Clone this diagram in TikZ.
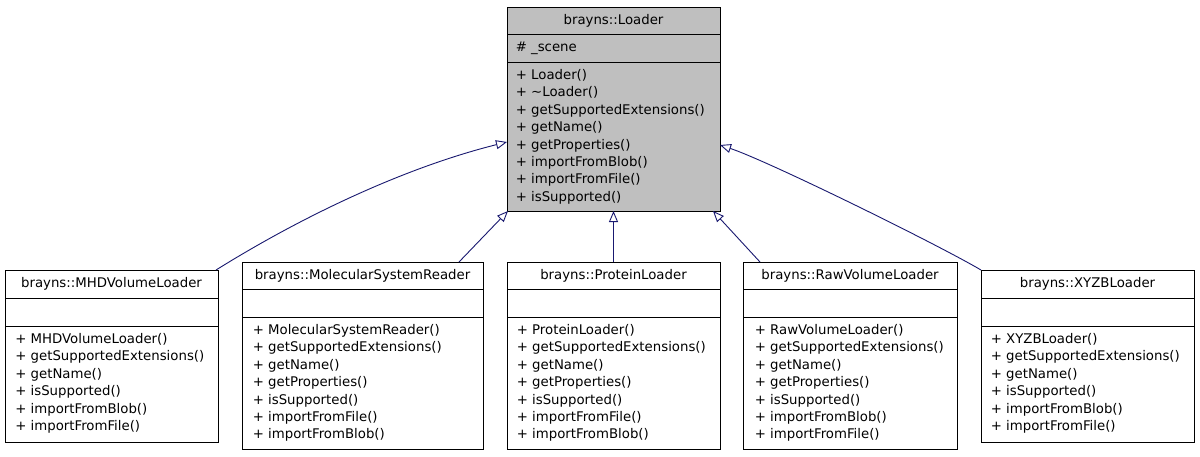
\documentclass[tikz,border=0pt]{standalone}
\usepackage{fontspec}
\newfontfamily\umlfont{DejaVu Sans}
\usetikzlibrary{arrows.meta}

\definecolor{edgeblue}{HTML}{191970}
\definecolor{basefill}{HTML}{BFBFBF}

\tikzset{
  x=1pt, y=1pt,
  classbox/.style={draw=black, line width=1pt, inner sep=0pt, outer sep=0pt, anchor=north west},
  divider/.style={draw=black, line width=1pt},
  member/.style={font=\umlfont\fontsize{13.3}{16}\selectfont, inner sep=0pt, anchor=base west},
  classname/.style={font=\umlfont\fontsize{13.3}{16}\selectfont, inner sep=0pt, anchor=base},
  inherit/.style={draw=edgeblue, line width=0.9pt, -{Triangle[open, length=11pt, width=9pt]}},
}

% box with three compartments: name, left, right, top, name rule, attribute rule, bottom, fill
\newcommand{\umlclass}[8]{%
  \node[classbox, fill=#8, minimum width={#3-#2}, minimum height={#7-#4}] (#1) at (#2,-#4) {};
  \draw[divider] (#2,-#5) -- (#3,-#5);
  \draw[divider] (#2,-#6) -- (#3,-#6);
}
% one line per member: prefix, x, first baseline, list
\newcommand{\umlmembers}[4]{%
  \foreach \txt [count=\k] in {#4} {
    \node[member] (#1-\k) at (#2, {-(#3)-17.4*(\k-1)}) {\txt};
  }%
}

\begin{document}
\begin{tikzpicture}
\useasboundingbox[fill=white] (0,0) rectangle (1200,-456);

% base class
\umlclass{Loader}{507}{720}{7}{34}{62}{211}{basefill}
\node[classname] (Loader-t) at (613.5,-24.3) {brayns::Loader};
\node[member] (Loader-a) at (515.6,-51.5) {\# \_scene};
\umlmembers{Loader}{515.6}{79.5}{{+ Loader()},{+ \textasciitilde Loader()},{+ getSupportedExtensions()},{+ getName()},{+ getProperties()},{+ importFromBlob()},{+ importFromFile()},{+ isSupported()}}

% derived classes
\umlclass{MHD}{5}{218}{270}{298}{326}{442}{white}
\node[classname] (MHD-t) at (111.5,-287.3) {brayns::MHDVolumeLoader};
\umlmembers{MHD}{15.1}{343.5}{{+ MHDVolumeLoader()},{+ getSupportedExtensions()},{+ getName()},{+ isSupported()},{+ importFromBlob()},{+ importFromFile()}}

\umlclass{MSR}{242}{483}{262}{289}{317}{449}{white}
\node[classname] (MSR-t) at (362.5,-279.3) {brayns::MolecularSystemReader};
\umlmembers{MSR}{252.6}{334.5}{{+ MolecularSystemReader()},{+ getSupportedExtensions()},{+ getName()},{+ getProperties()},{+ isSupported()},{+ importFromFile()},{+ importFromBlob()}}

\umlclass{Protein}{507}{720}{262}{289}{317}{449}{white}
\node[classname] (Protein-t) at (613.5,-279.3) {brayns::ProteinLoader};
\umlmembers{Protein}{516.6}{334.5}{{+ ProteinLoader()},{+ getSupportedExtensions()},{+ getName()},{+ getProperties()},{+ isSupported()},{+ importFromFile()},{+ importFromBlob()}}

\umlclass{Raw}{743}{957}{262}{289}{317}{449}{white}
\node[classname] (Raw-t) at (850,-279.3) {brayns::RawVolumeLoader};
\umlmembers{Raw}{754.6}{334.5}{{+ RawVolumeLoader()},{+ getSupportedExtensions()},{+ getName()},{+ getProperties()},{+ isSupported()},{+ importFromBlob()},{+ importFromFile()}}

\umlclass{XYZB}{981}{1194}{270}{298}{326}{442}{white}
\node[classname] (XYZB-t) at (1087.5,-287.3) {brayns::XYZBLoader};
\umlmembers{XYZB}{990.6}{343.5}{{+ XYZBLoader()},{+ getSupportedExtensions()},{+ getName()},{+ isSupported()},{+ importFromBlob()},{+ importFromFile()}}

% inheritance arrows
\draw[inherit] ([xshift=-2]MHD.north east) .. controls +(90,56) and +(-100,-25) .. ([yshift=-135]Loader.north west);
\draw[inherit] ([xshift=217]MSR.north west) -- ([xshift=1]Loader.south west);
\draw[inherit] (Protein.north) -- (Loader.south);
\draw[inherit] ([xshift=17]Raw.north west) -- ([xshift=-7]Loader.south east);
\draw[inherit] (XYZB.north west) .. controls +(-46,27) and +(48,-16) .. ([yshift=-138]Loader.north east);
\end{tikzpicture}
\end{document}
